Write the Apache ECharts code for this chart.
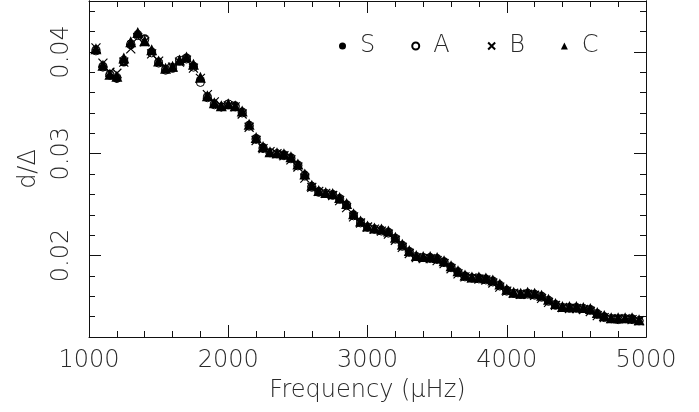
<!DOCTYPE html>
<html>
<head>
<meta charset="utf-8">
<script src="https://cdn.jsdelivr.net/npm/echarts@6/dist/echarts.min.js"></script>
<style>
  html, body { margin: 0; padding: 0; background: #fff; }
  #chart { width: 699px; height: 412px; }
</style>
</head>
<body>
<div id="chart"></div>
<script>
// frequency grid (µHz)
const freq = [1050, 1100, 1150, 1200, 1250, 1300, 1350, 1400, 1450, 1500,
  1550, 1600, 1650, 1700, 1750, 1800, 1850, 1900, 1950, 2000,
  2050, 2100, 2150, 2200, 2250, 2300, 2350, 2400, 2450, 2500,
  2550, 2600, 2650, 2700, 2750, 2800, 2850, 2900, 2950, 3000,
  3050, 3100, 3150, 3200, 3250, 3300, 3350, 3400, 3450, 3500,
  3550, 3600, 3650, 3700, 3750, 3800, 3850, 3900, 3950, 4000,
  4050, 4100, 4150, 4200, 4250, 4300, 4350, 4400, 4450, 4500,
  4550, 4600, 4650, 4700, 4750, 4800, 4850, 4900, 4950]

const valS = [0.0402, 0.0386, 0.0378, 0.0374, 0.0390, 0.0407, 0.0417, 0.0413, 0.0400, 0.0390,
  0.0383, 0.0384, 0.0391, 0.0394, 0.0386, 0.0372, 0.0356, 0.0349, 0.0346, 0.0348,
  0.0347, 0.0341, 0.0328, 0.0315, 0.0306, 0.0301, 0.0300, 0.0299, 0.0296, 0.0289,
  0.0279, 0.0268, 0.0263, 0.0261, 0.0260, 0.0256, 0.0250, 0.0240, 0.0233, 0.0228,
  0.0226, 0.0225, 0.0223, 0.0217, 0.0210, 0.0204, 0.0199, 0.0198, 0.0198, 0.0197,
  0.0194, 0.0189, 0.0184, 0.0180, 0.0178, 0.0178, 0.0177, 0.0175, 0.0171, 0.0166,
  0.0163, 0.0162, 0.0163, 0.0162, 0.0160, 0.0156, 0.0152, 0.0149, 0.0149, 0.0149,
  0.0148, 0.0147, 0.0143, 0.0140, 0.0138, 0.0138, 0.0138, 0.0138, 0.0136]

const valA = [0.0401, 0.0385, 0.0377, 0.0375, 0.0392, 0.0408, 0.0416, 0.0412, 0.0399, 0.0389,
  0.0382, 0.0385, 0.0392, 0.0393, 0.0385, 0.0370, 0.0355, 0.0348, 0.0346, 0.0349,
  0.0346, 0.0340, 0.0327, 0.0314, 0.0305, 0.0301, 0.0300, 0.0298, 0.0295, 0.0288,
  0.0278, 0.0267, 0.0262, 0.0261, 0.0259, 0.0255, 0.0249, 0.0239, 0.0232, 0.0228,
  0.0226, 0.0224, 0.0222, 0.0216, 0.0209, 0.0203, 0.0199, 0.0198, 0.0197, 0.0196,
  0.0193, 0.0188, 0.0183, 0.0179, 0.0178, 0.0177, 0.0176, 0.0174, 0.0170, 0.0165,
  0.0163, 0.0162, 0.0162, 0.0161, 0.0159, 0.0155, 0.0151, 0.0149, 0.0148, 0.0148,
  0.0148, 0.0146, 0.0142, 0.0139, 0.0138, 0.0137, 0.0138, 0.0137, 0.0136]

const valB = [0.0404, 0.0389, 0.0380, 0.0379, 0.0390, 0.0403, 0.0414, 0.0410, 0.0398, 0.0391,
  0.0385, 0.0385, 0.0390, 0.0392, 0.0384, 0.0374, 0.0358, 0.0351, 0.0347, 0.0347,
  0.0346, 0.0339, 0.0326, 0.0313, 0.0305, 0.0302, 0.0300, 0.0298, 0.0294, 0.0287,
  0.0276, 0.0267, 0.0263, 0.0261, 0.0259, 0.0254, 0.0247, 0.0238, 0.0232, 0.0228,
  0.0226, 0.0224, 0.0221, 0.0215, 0.0208, 0.0202, 0.0198, 0.0197, 0.0197, 0.0195,
  0.0192, 0.0187, 0.0182, 0.0179, 0.0178, 0.0177, 0.0176, 0.0173, 0.0169, 0.0165,
  0.0163, 0.0162, 0.0162, 0.0161, 0.0158, 0.0154, 0.0151, 0.0149, 0.0148, 0.0148,
  0.0147, 0.0145, 0.0141, 0.0139, 0.0138, 0.0138, 0.0138, 0.0137, 0.0136]

const valC = [0.0403, 0.0387, 0.0378, 0.0376, 0.0394, 0.0410, 0.0419, 0.0411, 0.0402, 0.0391,
  0.0384, 0.0386, 0.0392, 0.0395, 0.0388, 0.0375, 0.0357, 0.0350, 0.0347, 0.0349,
  0.0347, 0.0342, 0.0329, 0.0316, 0.0307, 0.0302, 0.0301, 0.0300, 0.0297, 0.0290,
  0.0280, 0.0269, 0.0264, 0.0262, 0.0261, 0.0257, 0.0251, 0.0241, 0.0234, 0.0229,
  0.0227, 0.0226, 0.0224, 0.0218, 0.0211, 0.0205, 0.0200, 0.0199, 0.0199, 0.0198,
  0.0195, 0.0190, 0.0185, 0.0181, 0.0179, 0.0179, 0.0178, 0.0176, 0.0172, 0.0167,
  0.0164, 0.0163, 0.0164, 0.0163, 0.0161, 0.0157, 0.0153, 0.0150, 0.0150, 0.0150,
  0.0149, 0.0148, 0.0144, 0.0141, 0.0139, 0.0139, 0.0139, 0.0139, 0.0137]

const yMajorTicks = [0.02, 0.03, 0.04]
const yMinorTicks = [0.012, 0.014, 0.016, 0.018, 0.022, 0.024, 0.026, 0.028,
  0.032, 0.034, 0.036, 0.038, 0.042, 0.044]

const FONT = 'DejaVu Sans'
const INK = '#111'
const TEXT = '#2a2a2a'
const FS = 24

function pairs(vals) {
  return freq.map((f, i) => [f, vals[i]])
}

function yAxisDef(position, ticks, len, labels) {
  return {
    type: 'value',
    position: position,
    min: 0.012,
    max: 0.045,
    axisLine: { show: true, lineStyle: { color: INK, width: 1 } },
    axisTick: { show: true, inside: true, length: len, customValues: ticks, lineStyle: { color: INK } },
    axisLabel: labels ? {
      show: true, customValues: ticks, rotate: 90, margin: 15,
      fontFamily: FONT, fontSize: FS, fontWeight: 200, color: TEXT
    } : { show: false },
    splitLine: { show: false }
  }
}

const chart = echarts.init(document.getElementById('chart'), null, { renderer: 'canvas' })

const crossPath = 'path://M0,0L10,10M10,0L0,10'

chart.setOption({
  animation: false,
  backgroundColor: '#fff',
  grid: { left: 89, right: 53, top: 1, bottom: 75 },
  legend: {
    left: 339,
    top: 34,
    padding: 0,
    itemGap: 36,
    itemWidth: 7,
    itemHeight: 7,
    textStyle: {
      fontFamily: FONT, fontSize: FS, fontWeight: 200, color: TEXT,
      padding: [0, 0, 0, 9]
    },
    data: ['S', 'A', 'B', 'C']
  },
  xAxis: [{
    type: 'value',
    position: 'bottom',
    min: 1000,
    max: 5000,
    interval: 1000,
    name: 'Frequency (\u03bcHz)',
    nameLocation: 'middle',
    nameGap: 42,
    nameTextStyle: { fontFamily: FONT, fontSize: FS, fontWeight: 200, color: TEXT },
    axisLine: { lineStyle: { color: INK, width: 1 } },
    axisTick: { inside: true, length: 12, lineStyle: { color: INK } },
    minorTick: { show: true, splitNumber: 5, length: 6, lineStyle: { color: INK } },
    axisLabel: {
      margin: 12, fontFamily: FONT, fontSize: FS, fontWeight: 200, color: TEXT,
      formatter: v => String(v)
    },
    splitLine: { show: false },
    minorSplitLine: { show: false }
  }, {
    type: 'value',
    position: 'top',
    min: 1000,
    max: 5000,
    interval: 1000,
    axisLine: { lineStyle: { color: INK, width: 1 } },
    axisTick: { inside: true, length: 12, lineStyle: { color: INK } },
    minorTick: { show: true, splitNumber: 5, length: 6, lineStyle: { color: INK } },
    axisLabel: { show: false },
    splitLine: { show: false }
  }],
  yAxis: [
    Object.assign(yAxisDef('left', yMajorTicks, 12, true), {
      name: 'd/\u0394',
      nameLocation: 'middle',
      nameGap: 48,
      nameRotate: 90,
      nameTextStyle: { fontFamily: FONT, fontSize: FS, fontWeight: 200, color: TEXT }
    }),
    yAxisDef('left', yMinorTicks, 6, false),
    yAxisDef('right', yMajorTicks, 12, false),
    yAxisDef('right', yMinorTicks, 6, false)
  ],
  series: [{
    name: 'S',
    type: 'scatter',
    symbol: 'circle',
    symbolSize: 9,
    itemStyle: { color: '#000', opacity: 1 },
    data: pairs(valS)
  }, {
    name: 'A',
    type: 'scatter',
    symbol: 'circle',
    symbolSize: 8,
    itemStyle: { color: '#fff', borderColor: '#000', borderWidth: 1, opacity: 1 },
    data: pairs(valA)
  }, {
    name: 'B',
    type: 'scatter',
    symbol: crossPath,
    symbolSize: 9,
    itemStyle: { color: 'none', borderColor: '#000', borderWidth: 1.2, opacity: 1 },
    data: pairs(valB)
  }, {
    name: 'C',
    type: 'scatter',
    symbol: 'triangle',
    symbolSize: 11,
    itemStyle: { color: '#000', opacity: 1 },
    data: pairs(valC)
  }]
})
</script>
</body>
</html>
